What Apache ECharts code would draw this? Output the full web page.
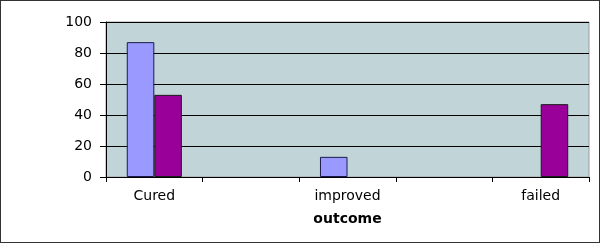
<!DOCTYPE html>
<html>
<head>
<meta charset="utf-8">
<script src="https://cdn.jsdelivr.net/npm/echarts@6/dist/echarts.min.js"></script>
<style>
html,body{margin:0;padding:0;background:#fff;}
#frame{width:600px;height:243px;box-sizing:border-box;border:1px solid #333;position:relative;}
#chart{position:absolute;left:-1px;top:-1px;width:600px;height:243px;}
</style>
</head>
<body>
<div id="frame"><div id="chart"></div></div>
<script>
var categories = ['Cured', '', 'improved', '', 'failed'];
var seriesBlue = [87, null, 13, null, 0];
var seriesPurple = [53, null, 0, null, 47];
var yTicks = [0, 20, 40, 60, 80, 100];

function toItems(arr) {
  return arr.map(function (v) {
    if (v === 0) return {value: 0, itemStyle: {borderWidth: 0, opacity: 0}};
    return v;
  });
}

var chart = echarts.init(document.getElementById('chart'), null, {renderer: 'canvas'});
chart.setOption({
  animation: false,
  grid: {
    left: 106, right: 11, top: 22, bottom: 66,
    show: true, backgroundColor: '#C1D5D9', borderColor: '#9a9a9a', borderWidth: 1
  },
  xAxis: {
    type: 'category',
    data: categories,
    name: 'outcome',
    nameLocation: 'middle',
    nameGap: 35,
    nameTextStyle: {fontFamily: 'DejaVu Sans', fontSize: 14, fontWeight: 'bold', color: '#000'},
    axisLine: {lineStyle: {color: '#000', width: 1}},
    axisTick: {show: true, interval: 0, alignWithLabel: false, length: 5, lineStyle: {color: '#000'}},
    axisLabel: {interval: 0, margin: 12, fontFamily: 'DejaVu Sans', fontSize: 14, color: '#000'}
  },
  yAxis: {
    type: 'value',
    min: yTicks[0], max: yTicks[yTicks.length - 1], interval: 20,
    axisLine: {show: true, lineStyle: {color: '#000', width: 1}},
    axisTick: {show: true, length: 6, inside: false, lineStyle: {color: '#000'}},
    axisLabel: {margin: 14, fontFamily: 'DejaVu Sans', fontSize: 14, color: '#000'},
    splitLine: {show: true, lineStyle: {color: '#000', width: 1}}
  },
  series: [
    {type: 'bar', data: toItems(seriesBlue), barGap: '0%', barCategoryGap: '43%',
     itemStyle: {color: '#9999FF', borderColor: '#1a1a4a', borderWidth: 1}},
    {type: 'bar', data: toItems(seriesPurple),
     itemStyle: {color: '#990099', borderColor: '#1a1a1a', borderWidth: 1}}
  ]
});
</script>
</body>
</html>
